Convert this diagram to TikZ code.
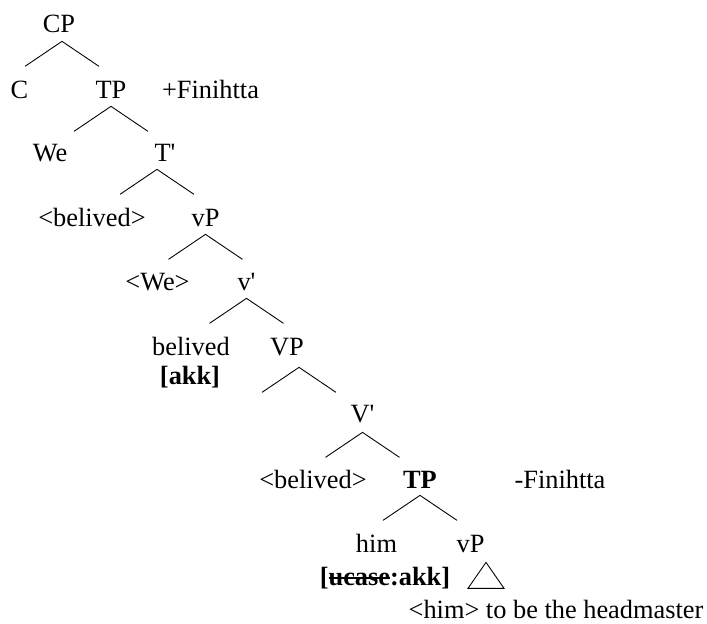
\documentclass[tikz,border=0pt]{standalone}
\usepackage{fontspec}
\setmainfont{Liberation Serif}
\usepackage{tikz}

\newsavebox{\strikebox}
\newcommand{\strikeword}[1]{\sbox{\strikebox}{#1}\rlap{\rule[0.24em]{\wd\strikebox}{1pt}}\usebox{\strikebox}}

\tikzset{
	word/.style={anchor=base, inner xsep=0pt, inner ysep=0.14cm, text depth=0pt, font=\fontsize{15}{18}\selectfont},
	branch/.style={line width=0.5pt}
}

\begin{document}
\begin{tikzpicture}
					\useasboundingbox (0,0) rectangle (14.14,12.46);
					% top of the tree
					\node[word] (CP) at (1.18,11.80) {CP};
					\node[word] (C) at (0.39,10.48) {C};
					\node[word] (TP) at (2.22,10.48) {TP};
					\node[word] (plusfin) at (4.21,10.48) {+Finihtta};
					\node[word] (We) at (1.00,9.22) {We};
					\node[word] (Tbar) at (3.30,9.22) {T\textquotesingle};
					\node[word] (trcV) at (1.84,7.92) {<belived>};
					\node[word] (vP) at (4.11,7.92) {vP};
					\node[word] (trcWe) at (3.15,6.66) {<We>};
					\node[word] (vbar) at (4.93,6.66) {v\textquotesingle};
					\node[word] (belived) at (3.82,5.36) {belived};
					\node[word] (akk) at (3.80,4.78) {\textbf{[akk]}};
					\node[word] (VP) at (5.74,5.36) {VP};
					\node[word] (Vbar) at (7.25,4.02) {V\textquotesingle};
					% embedded clause
					\node[word] (trcV2) at (6.26,2.70) {<belived>};
					\node[word] (TP2) at (8.40,2.70) {\textbf{TP}};
					\node[word] (minusfin) at (11.20,2.70) {-Finihtta};
					\node[word] (him) at (7.53,1.42) {him};
					\node[word] (vP2) at (9.41,1.42) {vP};
					\node[word] (ucase) at (7.70,0.76) {\textbf{[\strikeword{ucase}:akk]}};
					\node[word] (rest) at (11.12,0.09) {<him> to be the headmaster};
					% branches
					\draw[branch] ([xshift=0.06cm,yshift=-0.02cm]CP.south) +(-0.74,-0.5) -- +(0,0) -- +(0.74,-0.5);
					\draw[branch] (TP.south) +(-0.74,-0.5) -- +(0,0) -- +(0.74,-0.5);
					\draw[branch] ([xshift=-0.16cm]Tbar.south) +(-0.74,-0.5) -- +(0,0) -- +(0.74,-0.5);
					\draw[branch] (vP.south) +(-0.74,-0.5) -- +(0,0) -- +(0.74,-0.5);
					\draw[branch] ([yshift=-0.02cm]vbar.south) +(-0.74,-0.5) -- +(0,0) -- +(0.74,-0.5);
					\draw[branch] ([xshift=0.24cm,yshift=-0.1cm]VP.south) +(-0.74,-0.5) -- +(0,0) -- +(0.74,-0.5);
					\draw[branch] ([yshift=-0.06cm]Vbar.south) +(-0.74,-0.5) -- +(0,0) -- +(0.74,-0.5);
					\draw[branch] (TP2.south) +(-0.74,-0.5) -- +(0,0) -- +(0.74,-0.5);
					\draw[branch] ([xshift=0.31cm,yshift=-0.06cm]vP2.south) -- +(-0.36,-0.52) -- +(0.36,-0.52) -- cycle;
				\end{tikzpicture}
\end{document}
